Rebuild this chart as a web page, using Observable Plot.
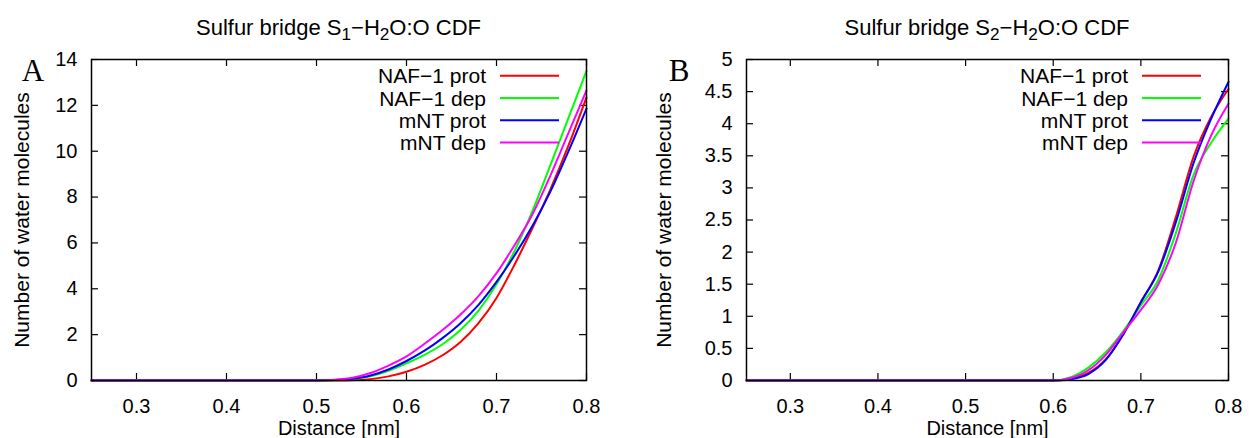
<!DOCTYPE html>
<html><head><meta charset="utf-8">
<script src="https://cdn.jsdelivr.net/npm/d3@7"></script>
<script src="https://cdn.jsdelivr.net/npm/@observablehq/plot@0.6"></script>
<style>
body{margin:0;background:#fff;}
#wrap{position:relative;width:1249px;height:438px;overflow:hidden;font-family:"Liberation Sans",Arial,sans-serif;}
#wrap svg{position:absolute;top:0;}
.title{position:absolute;top:17px;font-size:22px;line-height:22px;color:#000;white-space:nowrap;transform:translateX(-50%);}
.title sub{font-size:0.78em;vertical-align:-0.28em;line-height:0;}
</style></head><body><div id="wrap"></div>
<script>
// ---- data ----
const seriesNames = ["NAF−1 prot", "NAF−1 dep", "mNT prot", "mNT dep"];
const seriesColors = ["#ff0000", "#00ff00", "#0000ff", "#ff00ff"];

const xTicks = [0.3, 0.4, 0.5, 0.6, 0.7, 0.8];
const yTicksA = [0, 2, 4, 6, 8, 10, 12, 14];
const yTicksB = [0, 0.5, 1, 1.5, 2, 2.5, 3, 3.5, 4, 4.5, 5];

// Panel A: S1 bridge
const distA      = [0.25, 0.45, 0.50, 0.52, 0.54, 0.56, 0.58, 0.60, 0.62, 0.64, 0.66, 0.68, 0.70, 0.72, 0.74, 0.76, 0.78, 0.80];
const nafProtA   = [0,    0,    0,    0,    0.01, 0.06, 0.18, 0.38, 0.68, 1.10, 1.68, 2.50, 3.60, 5.05, 6.65, 8.35, 10.25, 12.35];
const nafDepA    = [0,    0,    0,    0.01, 0.06, 0.18, 0.42, 0.75, 1.12, 1.58, 2.20, 3.05, 4.20, 5.65, 7.40, 9.40, 11.45, 13.50];
const mntProtA   = [0,    0,    0,    0.02, 0.08, 0.22, 0.48, 0.85, 1.30, 1.85, 2.50, 3.30, 4.30, 5.45, 6.75, 8.25, 10.00, 11.86];
const mntDepA    = [0,    0,    0,    0.03, 0.12, 0.33, 0.65, 1.05, 1.60, 2.20, 2.88, 3.68, 4.68, 5.90, 7.25, 8.95, 10.80, 12.65];

// Panel B: S2 bridge
const distB      = [0.25, 0.55, 0.60, 0.62, 0.64, 0.66, 0.68, 0.70, 0.72, 0.74, 0.76, 0.78, 0.80];
const nafProtB   = [0,    0,    0,    0.03, 0.12, 0.33, 0.72, 1.22, 1.72, 2.55, 3.48, 4.10, 4.54];
const nafDepB    = [0,    0,    0,    0.05, 0.20, 0.44, 0.77, 1.17, 1.57, 2.30, 3.20, 3.70, 4.08];
const mntProtB   = [0,    0,    0,    0.02, 0.10, 0.32, 0.72, 1.22, 1.70, 2.47, 3.38, 4.07, 4.65];
const mntDepB    = [0,    0,    0,    0.04, 0.16, 0.40, 0.75, 1.10, 1.50, 2.15, 3.10, 3.81, 4.31];

const titleA = 'Sulfur bridge S<sub>1</sub>−H<sub>2</sub>O:O CDF';
const titleB = 'Sulfur bridge S<sub>2</sub>−H<sub>2</sub>O:O CDF';
const xLabel = "Distance [nm]";
const yLabel = "Number of water molecules";

// ---- drawing ----
const FONT = "Liberation Sans, Arial, sans-serif";
const H = 438, MT = 59, MB = 58;

function legendMark(index, scales, values, dims) {
  const g = d3.create("svg:g");
  const xr = dims.width - dims.marginRight;
  seriesNames.forEach((n, i) => {
    const y = dims.marginTop + 16.7 + 22.3 * i;
    g.append("text").attr("x", xr - 100).attr("y", y).attr("text-anchor", "end")
      .attr("dy", "0.36em").attr("fill", "#000").attr("font-size", 21).text(n);
    g.append("line").attr("x1", xr - 86).attr("x2", xr - 27).attr("y1", y).attr("y2", y)
      .attr("stroke", seriesColors[i]).attr("stroke-width", 2);
  });
  return g.node();
}

function panel({width, marginLeft, marginRight, xs, ys, yDomain, yTicks, yFmt, letter, letterDx, ylabelDx}) {
  const plotW = width - marginLeft - marginRight;
  const plotH = H - MT - MB;
  const lines = ys.map((vals, i) =>
    Plot.line(xs.map((x, j) => ({x, y: vals[j]})), {
      x: "x", y: "y", stroke: seriesColors[i], strokeWidth: 2, curve: "monotone-x"
    }));
  return Plot.plot({
    width, height: H, marginTop: MT, marginBottom: MB, marginLeft, marginRight,
    style: {fontFamily: FONT, fontSize: "20px", color: "#000", background: "transparent", overflow: "visible"},
    x: {domain: [0.25, 0.8], axis: null},
    y: {domain: yDomain, axis: null},
    marks: [
      Plot.axisX(xTicks, {tickSize: 0, tickPadding: 18, tickFormat: d => d.toFixed(1), fontSize: 20, label: null}),
      Plot.axisY(yTicks, {tickSize: 0, tickPadding: 14, tickFormat: yFmt, fontSize: 20, label: null}),
      Plot.tickX(xTicks, {x: d => d, insetTop: plotH - 7, stroke: "#000", strokeWidth: 1.2}),
      Plot.tickX(xTicks, {x: d => d, insetBottom: plotH - 7, stroke: "#000", strokeWidth: 1.2}),
      Plot.tickY(yTicks, {y: d => d, insetRight: plotW - 7, stroke: "#000", strokeWidth: 1.2}),
      Plot.tickY(yTicks, {y: d => d, insetLeft: plotW - 7, stroke: "#000", strokeWidth: 1.2}),
      ...lines,
      Plot.frame({stroke: "#000", strokeWidth: 1.5}),
      legendMark,
      Plot.text([xLabel], {frameAnchor: "bottom", dy: 48, lineAnchor: "middle", textAnchor: "middle", fontSize: 20, fill: "#000"}),
      Plot.text([yLabel], {frameAnchor: "left", dx: ylabelDx, rotate: -90, lineAnchor: "middle", textAnchor: "middle", fontSize: 21, fill: "#000"}),
      Plot.text([letter], {frameAnchor: "top-left", dx: letterDx, dy: 21, lineAnchor: "bottom", textAnchor: "middle",
        fontSize: 31, fontFamily: "Liberation Serif, Times New Roman, serif", fill: "#000"})
    ]
  });
}

const wrap = document.getElementById("wrap");

const svgA = panel({
  width: 624, marginLeft: 91, marginRight: 38, xs: distA,
  ys: [nafProtA, nafDepA, mntProtA, mntDepA], yDomain: [0, 14], yTicks: yTicksA,
  yFmt: d => String(d), letter: "A", letterDx: -58.5, ylabelDx: -69
});
svgA.style.left = "0px";
wrap.appendChild(svgA);

const svgB = panel({
  width: 625, marginLeft: 122, marginRight: 21, xs: distB,
  ys: [nafProtB, nafDepB, mntProtB, mntDepB], yDomain: [0, 5], yTicks: yTicksB,
  yFmt: d => String(d), letter: "B", letterDx: -67.5, ylabelDx: -82
});
svgB.style.left = "624px";
wrap.appendChild(svgB);

[[titleA, 338.5], [titleB, 987]].forEach(([t, cx]) => {
  const d = document.createElement("div");
  d.className = "title";
  d.style.left = cx + "px";
  d.innerHTML = t;
  wrap.appendChild(d);
});
</script></body></html>
